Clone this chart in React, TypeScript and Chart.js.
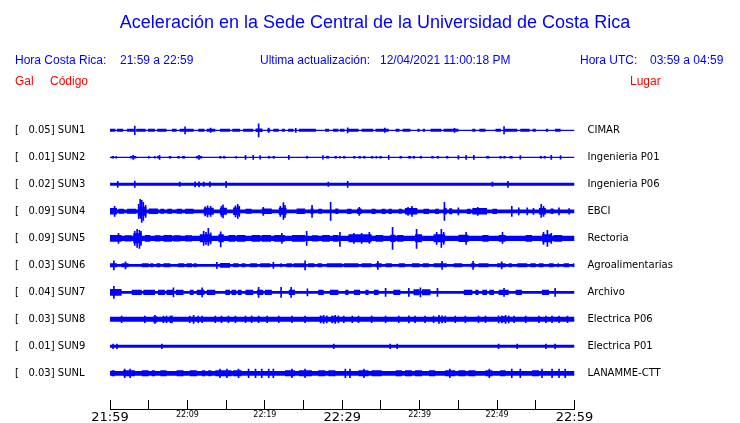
import React, { useEffect, useRef } from "react";
import { Chart, registerables } from "chart.js";

Chart.register(...registerables);

const BLUE = "#0000ff";
const RED = "#ff0000";

// ---- station info ----
const codes = ["SUN1", "SUN2", "SUN3", "SUN4", "SUN5", "SUN6", "SUN7", "SUN8", "SUN9", "SUNL"];
const gals = ["0.05", "0.01", "0.02", "0.09", "0.09", "0.03", "0.04", "0.03", "0.01", "0.03"];
const places = [
  "CIMAR",
  "Ingenieria P01",
  "Ingenieria P06",
  "EBCI",
  "Rectoria",
  "Agroalimentarias",
  "Archivo",
  "Electrica P06",
  "Electrica P01",
  "LANAMME-CTT",
];

// time axis (minutes after 21:59)
const tickValues = [0, 10, 20, 30, 40, 50, 60];
const tickLabels = ["21:59", "22:09", "22:19", "22:29", "22:39", "22:49", "22:59"];

// background noise half-amplitude per station (display units)
const baseHalf = [0.6, 0.6, 1.5, 1.9, 2.7, 1.35, 1.35, 2.5, 1.5, 2.35];

// noisy segments: [start min, end min, half amplitude]
const sun1Blocks = [
  [0, 0.7, 1.5], [0.9, 1.7, 1.5], [2.2, 3.1, 1.5], [3.4, 4.6, 1.5], [4.9, 5.8, 1.5], [6.1, 7.3, 1.5],
  [8.0, 8.6, 1.5], [9.0, 10.8, 1.5], [11.4, 12.2, 1.5], [12.5, 13.6, 1.5], [14.2, 15.5, 1.5], [15.8, 16.8, 1.5],
  [17.2, 18.5, 1.5], [18.8, 19.7, 1.7], [20.3, 20.7, 1.5], [21.1, 21.8, 1.5], [22.2, 22.6, 1.5], [23.0, 23.7, 1.5],
  [24.4, 26.6, 1.5], [27.8, 28.3, 1.5], [28.8, 29.5, 1.5], [29.7, 30.3, 1.5], [30.6, 32.1, 1.5], [32.5, 34.0, 1.5],
  [34.3, 36.0, 1.5], [36.9, 37.4, 1.5], [37.8, 38.8, 1.5], [39.7, 40.0, 1.5], [40.4, 40.7, 1.5], [41.4, 42.8, 1.5],
  [43.1, 45.0, 1.5], [46.8, 47.2, 1.5], [47.7, 48.5, 1.5], [49.8, 50.5, 1.5], [51.0, 52.6, 1.5], [53.0, 54.2, 1.5],
  [54.6, 55.0, 1.5], [56.3, 56.6, 1.5], [57.5, 58.2, 1.5],
];
const sun2Blocks = [
  [0.2, 0.5, 1.3], [0.7, 0.9, 1.3], [2.6, 2.9, 1.3], [3.1, 3.4, 1.3], [4.9, 5.1, 1.3], [5.7, 5.9, 1.3],
  [6.1, 6.3, 1.3], [7.6, 7.9, 1.3], [8.7, 9.0, 1.3], [9.3, 9.7, 1.3], [11.1, 11.4, 1.3], [11.6, 11.9, 1.3],
  [14.1, 14.4, 1.3], [14.6, 14.9, 1.3], [16.2, 16.4, 1.3], [20.4, 20.7, 1.3], [21.0, 21.3, 1.3], [25.3, 25.6, 1.3],
  [27.9, 28.3, 1.3], [29.0, 29.3, 1.3], [29.6, 29.8, 1.3], [30.1, 30.4, 1.3], [31.4, 31.7, 1.3], [32.1, 32.4, 1.3],
  [32.7, 33.0, 1.3], [33.7, 34.0, 1.3], [34.3, 34.5, 1.3], [34.8, 35.1, 1.3], [37.4, 37.7, 1.3], [38.5, 38.9, 1.3],
  [39.1, 39.4, 1.3], [40.0, 40.3, 1.3], [41.5, 41.8, 1.3], [42.2, 42.5, 1.3], [43.4, 43.7, 1.3], [48.6, 49.0, 1.3],
  [50.3, 50.6, 1.3], [50.8, 51.1, 1.3], [51.6, 52.0, 1.3], [55.5, 55.8, 1.3], [56.0, 56.3, 1.3],
];
const sun3Blocks: number[][] = [];
const sun4Blocks = [
  [0, 0.9, 3.2], [1.1, 1.8, 2.5], [2.2, 3.4, 2.5], [3.7, 4.7, 4.5], [5.0, 6.2, 2.7], [6.5, 7.0, 2.5], [7.4, 8.0, 2.5],
  [8.6, 9.3, 2.5], [9.7, 10.8, 2.5], [12.1, 13.4, 3.5], [14.2, 15.1, 3.5], [15.9, 16.8, 3.8], [17.5, 18.3, 2.5],
  [19.6, 20.9, 2.7], [21.8, 22.8, 3.5], [24.1, 25.2, 2.7], [25.9, 26.3, 2.7], [26.9, 27.4, 2.5], [29.1, 29.5, 2.7],
  [30.6, 31.2, 2.6], [31.9, 32.5, 2.7], [33.8, 34.3, 2.6], [35.1, 35.6, 2.6], [36.0, 36.4, 2.6], [37.3, 37.7, 2.5],
  [38.1, 39.7, 3.2], [40.5, 41.2, 2.6], [42.0, 42.5, 2.6], [43.1, 43.5, 3.2], [43.8, 44.2, 3], [46.1, 46.6, 2.6],
  [46.8, 48.7, 3.2], [49.4, 50.0, 2.6], [55.4, 56.3, 3.2], [56.9, 57.3, 2.7],
];
const sun5Blocks = [
  [0, 1.5, 3.4], [1.9, 2.8, 3.1], [3.0, 4.1, 5], [4.5, 5.2, 3.4], [5.8, 6.5, 3.1], [6.9, 8.0, 3.4], [8.2, 9.1, 3.1],
  [9.7, 10.6, 3.1], [11.6, 13.1, 4], [14.0, 14.7, 4], [15.3, 16.2, 3.4], [16.4, 17.5, 3.4], [18.3, 19.4, 3.4],
  [19.6, 20.8, 3.4], [21.2, 22.6, 3.4], [23.5, 25.2, 3.4], [26.1, 26.9, 3.1], [27.4, 28.4, 3.4], [28.8, 29.5, 3.4],
  [30.8, 33.8, 4], [34.3, 35.3, 3.4], [36.2, 36.9, 3.7], [37.1, 37.9, 3.4], [39.4, 40.3, 4], [41.8, 43.3, 4],
  [45.0, 46.3, 3.7], [48.1, 48.9, 3.4], [50.2, 51.1, 3.4], [53.7, 54.5, 3.3], [55.8, 57.1, 4], [57.3, 58.4, 3.4],
];
const sun6Blocks = [
  [0, 0.9, 2], [1.5, 2.4, 2], [4.1, 5.0, 2], [5.2, 5.6, 2], [6.0, 6.5, 2], [6.9, 7.8, 2],
  [8.8, 9.6, 2], [9.9, 10.6, 2], [10.8, 11.2, 2], [14.2, 15.5, 2.3], [15.9, 16.6, 2], [17.0, 17.5, 2],
  [18.1, 19.0, 2], [19.4, 20.7, 2], [22.0, 22.2, 2], [22.8, 23.5, 2], [23.7, 25.2, 2], [25.6, 26.4, 2],
  [26.8, 27.4, 2], [28.0, 30.0, 2], [30.2, 32.1, 2], [32.5, 33.8, 2], [34.3, 35.1, 2], [35.6, 36.4, 2],
  [37.3, 38.1, 2], [39.0, 40.0, 2], [40.4, 41.2, 2], [41.8, 43.5, 2], [44.4, 45.5, 2], [46.6, 47.2, 2],
  [47.6, 48.9, 2], [50.0, 51.1, 2], [51.5, 51.9, 2], [52.6, 53.9, 2], [54.3, 55.0, 2], [55.4, 56.0, 2],
  [56.7, 57.3, 2], [57.8, 58.0, 2], [58.6, 59.3, 2], [59.8, 60, 2],
];
const sun7Blocks = [
  [0, 1.5, 3.4], [2.8, 4.1, 2.7], [4.3, 5.8, 2.7], [6.2, 7.1, 2.7], [7.3, 8.2, 2.7], [8.5, 9.5, 2.7], [10.3, 10.8, 2.7],
  [11.2, 12.2, 2.7], [12.5, 13.6, 2.7], [14.9, 15.5, 2.7], [15.7, 16.3, 2.7], [16.5, 17.0, 2.7], [17.5, 18.5, 2.7],
  [19.0, 19.8, 2.7], [20.0, 20.9, 2.7], [23.1, 23.9, 2.7], [26.9, 27.6, 2.7], [28.4, 29.5, 2.7], [30.4, 30.8, 2.7],
  [31.5, 32.3, 2.7], [33.0, 33.4, 2.7], [34.1, 34.7, 2.7], [36.6, 37.5, 2.7], [39.2, 40.0, 3], [40.3, 41.4, 3],
  [45.7, 46.8, 2.7], [47.2, 47.6, 2.7], [48.1, 48.7, 2.7], [49.0, 49.6, 2.7], [50.2, 51.5, 2.7], [52.4, 53.2, 2.7],
  [55.8, 56.7, 2.7],
];
const sun8Blocks = [[5.6, 6.1, 3.2], [27.2, 27.7, 3], [28.7, 29.2, 3], [50.6, 51.2, 3]];
const sun9Blocks: number[][] = [];
const sunLBlocks = [
  [0.2, 0.6, 3], [1.7, 3.2, 3], [4.1, 5.0, 3], [5.4, 5.8, 3], [6.5, 7.3, 3], [8.6, 9.5, 3], [10.3, 11.2, 3],
  [11.9, 12.3, 3], [12.7, 13.1, 3], [13.6, 15.7, 3], [15.9, 17.0, 3], [22.6, 23.9, 3], [24.4, 26.1, 3],
  [26.9, 27.8, 3], [28.2, 29.1, 3], [32.1, 33.4, 3], [33.8, 35.1, 3], [36.9, 37.7, 3], [38.1, 39.0, 3],
  [39.4, 40.3, 3], [41.2, 42.0, 3], [43.3, 44.6, 3], [45.0, 45.9, 3], [46.3, 47.2, 3], [48.5, 49.4, 3],
  [50.4, 51.1, 3], [54.5, 55.4, 3],
];

// single peaks: [minute, amplitude up, amplitude down (optional)]
const sun1Spikes = [[3.2, 4.3], [9.7, 3.5], [19.2, 6.5], [30.7, 2.5], [50.9, 3.7], [13.0, 2.2], [24.0, 2], [35.5, 2.2], [44.5, 2], [20.5, 2.2]];
const sun2Spikes = [[3.0, 2], [6.4, 2], [11.5, 2], [17.5, 2], [18.5, 2], [19.4, 1.8], [23.1, 2], [27.5, 1.8], [36.0, 2], [45.0, 1.8], [46.0, 2], [47.0, 2], [53.0, 1.8], [57.0, 2], [58.2, 1.8]];
const sun3Spikes = [[1.0, 3], [3.2, 3.2], [9.0, 2.2], [11.0, 2.5], [11.5, 2.5], [12.1, 2.2], [12.9, 2.5], [15.0, 3], [28.2, 2.2], [30.7, 3], [49.4, 2.2], [51.4, 3]];
const sun4Spikes = [
  [0.6, 5], [3.7, 7], [3.9, 12, 7], [4.1, 11], [4.3, 9], [4.6, 6], [12.3, 4.5], [12.6, 5.5], [13.0, 5], [14.4, 5],
  [14.6, 6.5], [16.2, 5.5], [16.5, 7], [16.7, 5], [19.8, 4], [22.0, 5], [22.4, 8.7, 8], [22.6, 6], [26.1, 6], [28.5, 9],
  [32.2, 4], [38.5, 4], [39.0, 5], [43.2, 9], [45.0, 3.5], [47.5, 4], [51.9, 5], [52.8, 3.5], [53.9, 3.5], [54.7, 3],
  [55.7, 7, 6], [56.0, 5], [58.0, 3.5], [59.3, 2.8],
];
const sun5Spikes = [
  [1.1, 5], [3.2, 7], [3.5, 9], [3.8, 8, 10], [4.0, 7], [12.1, 7], [12.4, 6], [12.7, 10, 7], [13.0, 5.5], [14.3, 6.5, 8.5],
  [22.2, 5], [25.4, 7], [29.7, 6, 8], [31.5, 5], [32.5, 5], [33.5, 6, 5], [36.5, 11], [39.6, 9, 10], [42.2, 6], [42.8, 9],
  [43.1, 6], [46.0, 6], [50.7, 6, 5], [56.0, 6], [56.5, 8], [57.0, 5],
];
const sun6Spikes = [[0.5, 4.5], [2.0, 3.5], [13.8, 3], [21.1, 3], [25.2, 4.5], [34.6, 4], [42.9, 4], [46.9, 4], [50.6, 3.5]];
const sun7Spikes = [[0.5, 6], [8.2, 4.5], [11.9, 4.5], [19.2, 5], [22.1, 5], [23.4, 5], [25.5, 3.5], [35.6, 4], [38.6, 4], [40.1, 4.5], [42.3, 4], [50.9, 4], [57.5, 4]];
const sun8Spikes = [
  [1.5, 3.3], [4.5, 3.3], [5.8, 4], [6.9, 3.3], [7.3, 3.3], [7.8, 3.3], [8.0, 3.5], [10.3, 3.3], [10.8, 4], [11.4, 3.3],
  [11.9, 3.3], [13.6, 3.3], [14.4, 3.3], [15.3, 3.3], [16.2, 3.3], [17.5, 3.3], [18.3, 3.3], [19.2, 3.3], [20.3, 3.3],
  [21.8, 3.3], [23.5, 3.3], [25.2, 3.3], [27.2, 3.5], [27.6, 4], [28.0, 3.5], [28.7, 3.5], [29.1, 4], [29.5, 3.5],
  [30.2, 3.3], [31.3, 3.3], [32.1, 3.3], [33.8, 3.3], [35.6, 3.3], [37.3, 3.3], [38.6, 3.5], [39.4, 3.3], [40.7, 3.3],
  [41.8, 3.3], [42.5, 4], [42.9, 3.5], [43.3, 3.3], [44.6, 3.3], [45.9, 3.3], [47.6, 3.3], [48.5, 3.3], [50.2, 3.5],
  [50.6, 3.5], [51.1, 4], [51.5, 3.5], [52.2, 3.3], [53.7, 3.3], [55.4, 3.3], [56.3, 3.3], [57.1, 3.3], [58.0, 3.3],
  [59.1, 3.3],
];
const sun9Spikes = [[0.4, 2.2], [0.9, 2.2], [6.7, 2.2], [28.9, 2.3], [36.2, 2.3], [37.1, 2.2], [50.2, 2.2], [52.6, 2.2], [56.3, 2.2], [57.5, 2.2]];
const sunLSpikes = [
  [1.9, 4.2], [2.6, 4.2], [14.2, 4.2], [15.1, 4.2], [16.6, 4.2], [17.9, 4.2], [18.8, 4.2], [19.6, 4.2], [20.5, 4.2],
  [21.1, 4.2], [23.5, 4.2], [25.2, 4.2], [30.4, 4.2], [31.0, 4.2], [32.8, 4.2], [43.9, 4.2], [49.0, 4.2], [51.9, 4.2],
  [53.0, 4.2], [55.8, 4.2], [57.1, 4.2], [58.0, 4.2], [58.8, 4.2],
];

const allBlocks = [sun1Blocks, sun2Blocks, sun3Blocks, sun4Blocks, sun5Blocks, sun6Blocks, sun7Blocks, sun8Blocks, sun9Blocks, sunLBlocks];
const allSpikes = [sun1Spikes, sun2Spikes, sun3Spikes, sun4Spikes, sun5Spikes, sun6Spikes, sun7Spikes, sun8Spikes, sun9Spikes, sunLSpikes];

const ROW_PX = 27; // display units per row

const headerPlugin = {
  id: "header",
  afterDraw(chart: any) {
    const ctx = chart.ctx as CanvasRenderingContext2D;
    ctx.save();
    ctx.textBaseline = "alphabetic";
    ctx.fillStyle = BLUE;
    ctx.font = '18px "Liberation Sans", Arial, sans-serif';
    ctx.textAlign = "center";
    ctx.fillText("Aceleración en la Sede Central de la Universidad de Costa Rica", 375, 28);
    ctx.textAlign = "left";
    ctx.font = '12px "Liberation Sans", Arial, sans-serif';
    ctx.fillText("Hora Costa Rica:", 15, 64);
    ctx.fillText("21:59 a 22:59", 120, 64);
    ctx.fillText("Ultima actualización:", 260, 64);
    ctx.fillText("12/04/2021 11:00:18 PM", 380, 64);
    ctx.fillText("Hora UTC:", 580, 64);
    ctx.fillText("03:59 a 04:59", 650, 64);
    ctx.fillStyle = RED;
    ctx.fillText("Gal", 15, 85);
    ctx.fillText("Código", 50, 85);
    ctx.fillText("Lugar", 630, 85);
    ctx.restore();
  },
};

export default function App() {
  const ref = useRef<HTMLCanvasElement | null>(null);

  useEffect(() => {
    if (!ref.current) return;
    const datasets: any[] = [];
    codes.forEach((_, i) => {
      datasets.push({
        type: "line",
        data: [{ x: 0, y: i }, { x: 60, y: i }],
        borderColor: BLUE,
        borderWidth: baseHalf[i] * 2,
        borderCapStyle: "butt",
        pointRadius: 0,
        pointHitRadius: 0,
      });
      const pts: any[] = [];
      allBlocks[i].forEach(([a, b, h]) => {
        pts.push({ x: a, y: i, w: h * 2 }, { x: b, y: i, w: h * 2 }, { x: b, y: null, w: 0 });
      });
      if (pts.length) {
        datasets.push({
          type: "line",
          data: pts,
          borderColor: BLUE,
          borderWidth: 3,
          borderCapStyle: "butt",
          pointRadius: 0,
          pointHitRadius: 0,
          spanGaps: false,
          segment: { borderWidth: (c: any) => pts[c.p0DataIndex].w || 1 },
        });
      }
      datasets.push({
        type: "bar",
        data: allSpikes[i].map((s) => ({
          x: s[0],
          y: [i - s[1] / ROW_PX, i + (s[2] ?? s[1]) / ROW_PX],
        })),
        backgroundColor: BLUE,
        borderWidth: 0,
        barThickness: 1,
        grouped: false,
      });
    });

    const rowTicks = (s: any) => {
      s.ticks = codes.map((_, i) => ({ value: i }));
    };

    const chart = new Chart(ref.current, {
      type: "line",
      data: { datasets },
      plugins: [headerPlugin],
      options: {
        animation: false,
        responsive: false,
        devicePixelRatio: 1,
        events: [],
        layout: { padding: { top: 103.3, left: 15, right: 0, bottom: 0 } },
        plugins: { legend: { display: false }, tooltip: { enabled: false }, title: { display: false } },
        scales: {
          x: {
            type: "linear",
            min: 0,
            max: 60,
            offset: false,
            position: "bottom",
            afterFit: (s: any) => {
              s.height = 14;
            },
            grid: { display: true, offset: false, drawOnChartArea: false, drawTicks: true, tickLength: -9, color: "#000", tickColor: "#000", lineWidth: 1 },
            border: { display: true, color: "#000", width: 1 },
            ticks: {
              stepSize: 5,
              autoSkip: false,
              maxRotation: 0,
              padding: 10,
              color: "#000",
              font: (c: any) => ({
                family: "DejaVu Sans",
                size: c.tick && c.tick.value % 30 === 0 ? 13 : 8,
              }),
              callback: (v: any) => {
                const k = tickValues.indexOf(Number(v));
                return k >= 0 ? tickLabels[k] : "";
              },
            },
          },
          y: {
            type: "linear",
            min: -1,
            max: 10.32,
            reverse: true,
            position: "left",
            afterFit: (s: any) => {
              s.width = 95;
            },
            afterBuildTicks: rowTicks,
            grid: { display: false, drawTicks: false },
            border: { display: false },
            ticks: {
              autoSkip: false,
              crossAlign: "far",
              padding: 0,
              color: "#000",
              font: { family: "DejaVu Sans", size: 10 },
              callback: (v: any) => {
                const i = Math.round(Number(v));
                return `[   ${gals[i]}] ${codes[i]}`;
              },
            },
          },
          y2: {
            type: "linear",
            min: -1,
            max: 10.32,
            reverse: true,
            position: "right",
            afterFit: (s: any) => {
              s.width = 165.5;
            },
            afterBuildTicks: rowTicks,
            grid: { display: false, drawTicks: true, tickLength: 13 },
            border: { display: false },
            ticks: {
              autoSkip: false,
              padding: 0,
              color: "#000",
              font: { family: "DejaVu Sans", size: 10 },
              callback: (v: any) => places[Math.round(Number(v))],
            },
          },
        },
      } as any,
    });
    return () => chart.destroy();
  }, []);

  return (
    <div style={{ position: "absolute", left: 0, top: 0, width: 740, height: 423, background: "#fff" }}>
      <canvas ref={ref} width={740} height={423} style={{ display: "block" }} />
    </div>
  );
}
